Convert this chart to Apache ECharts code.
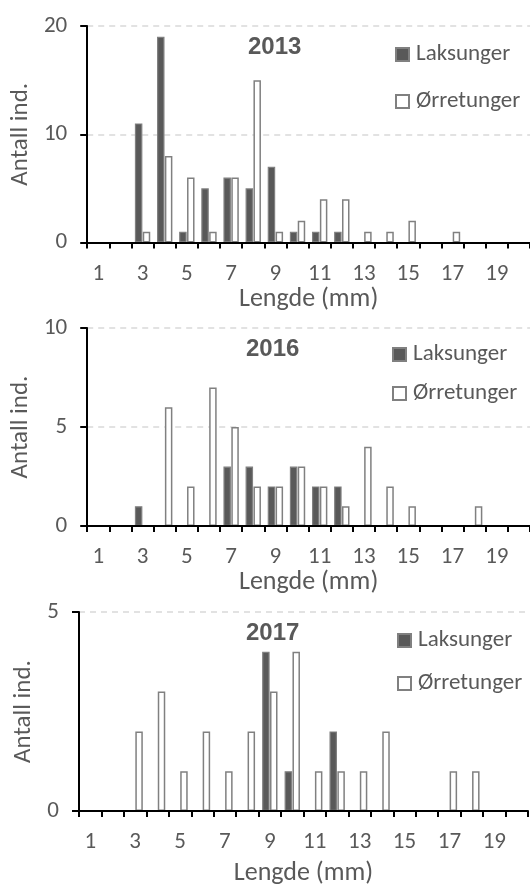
<!DOCTYPE html>
<html>
<head>
<meta charset="utf-8">
<script src="https://cdn.jsdelivr.net/npm/echarts@6/dist/echarts.min.js"></script>
<style>
html,body{margin:0;padding:0;background:#fff;}
#chart{width:530px;height:887px;}
</style>
</head>
<body>
<div id="chart"></div>
<script>
var categories = ['1','2','3','4','5','6','7','8','9','10','11','12','13','14','15','16','17','18','19','20'];
var seriesNames = ['Laksunger', 'Ørretunger'];
var years = ['2013', '2016', '2017'];

var laks2013 = [0,0,11,19,1,5,6,5,7,1,1,1,0,0,0,0,0,0,0,0];
var orret2013 = [0,0,1,8,6,1,6,15,1,2,4,4,1,1,2,0,1,0,0,0];
var laks2016 = [0,0,1,0,0,0,3,3,2,3,2,2,0,0,0,0,0,0,0,0];
var orret2016 = [0,0,0,6,2,7,5,2,2,3,2,1,4,2,1,0,0,1,0,0];
var laks2017 = [0,0,0,0,0,0,0,0,4,1,0,2,0,0,0,0,0,0,0,0];
var orret2017 = [0,0,2,3,1,2,1,2,3,4,1,1,1,2,0,0,1,1,0,0];

var yMax = [20, 10, 5];
var yInterval = [10, 5, 5];

var FONT = 'Carlito, Lato, sans-serif';
var TXT = '#595959';

var panels = [
  {laks: laks2013, orret: orret2013, left: 82, top: 26, height: 216.5, titleX: 248, titleY: 35, legX: 395, legY: 43, legGap: 24, yNameGap: 41, xNameGap: 35},
  {laks: laks2016, orret: orret2016, left: 81, top: 328, height: 198, titleX: 246, titleY: 337, legX: 392, legY: 343, legGap: 16, yNameGap: 39, xNameGap: 41},
  {laks: laks2017, orret: orret2017, left: 79, top: 612, height: 200, titleX: 246, titleY: 621, legX: 397, legY: 629, legGap: 20, yNameGap: 39, xNameGap: 49}
];

function clean(a){ return a.map(function(v){ return v === 0 ? null : v; }); }

var option = {animation:false, backgroundColor:'#fff', grid:[], xAxis:[], yAxis:[], series:[], title:[], legend:[]};

panels.forEach(function(p, i){
  option.grid.push({left:p.left, top:p.top, height:p.height, width:449, containLabel:false});
  option.xAxis.push({
    type:'category', gridIndex:i, data:categories, boundaryGap:true, z:5,
    name:'Lengde (mm)', nameLocation:'middle', nameGap:p.xNameGap,
    nameTextStyle:{fontFamily:FONT, fontSize:26, color:TXT},
    axisLine:{lineStyle:{color:'#000', width:2}},
    axisTick:{show:true, interval:0, length:6, lineStyle:{color:'#000', width:2}},
    axisLabel:{interval:1, margin:20, fontFamily:FONT, fontSize:23, color:TXT},
    splitLine:{show:false}
  });
  option.yAxis.push({
    type:'value', gridIndex:i, min:0, max:yMax[i], interval:yInterval[i],
    name:'Antall ind.', nameLocation:'middle', nameGap:p.yNameGap, nameRotate:90,
    nameTextStyle:{fontFamily:FONT, fontSize:25, color:TXT},
    axisLine:{show:true, lineStyle:{color:'#000', width:2}},
    axisTick:{show:true, length:7, lineStyle:{color:'#000', width:2}},
    axisLabel:{margin:20, fontFamily:FONT, fontSize:23, color:TXT},
    splitLine:{show:true, lineStyle:{color:'#d9d9d9', type:[6,5], width:1.5}}
  });
  option.series.push({
    name:seriesNames[0], type:'bar', xAxisIndex:i, yAxisIndex:i, data:clean(p.laks),
    barWidth:7.5, barGap:'5%',
    itemStyle:{color:'#595959', borderColor:'#808080', borderWidth:1.2}
  });
  option.series.push({
    name:seriesNames[1], type:'bar', xAxisIndex:i, yAxisIndex:i, data:clean(p.orret),
    barWidth:7.5, barGap:'5%',
    itemStyle:{color:'#ffffff', borderColor:'#808080', borderWidth:1.5}
  });
  option.title.push({
    text:years[i], left:p.titleX, top:p.titleY, padding:0,
    textStyle:{fontFamily:'Liberation Sans, Arial, sans-serif', fontWeight:'bold', fontSize:24, color:TXT}
  });
  option.legend.push({
    orient:'vertical', left:p.legX, top:p.legY, padding:0, icon:'rect',
    itemWidth:13, itemHeight:13, itemGap:p.legGap, selectedMode:false,
    data:seriesNames,
    textStyle:{fontFamily:FONT, fontSize:23, color:TXT, lineHeight:22, padding:[0,0,0,2]}
  });
});

var chart = echarts.init(document.getElementById('chart'), null, {renderer:'canvas'});
chart.setOption(option);
</script>
</body>
</html>
